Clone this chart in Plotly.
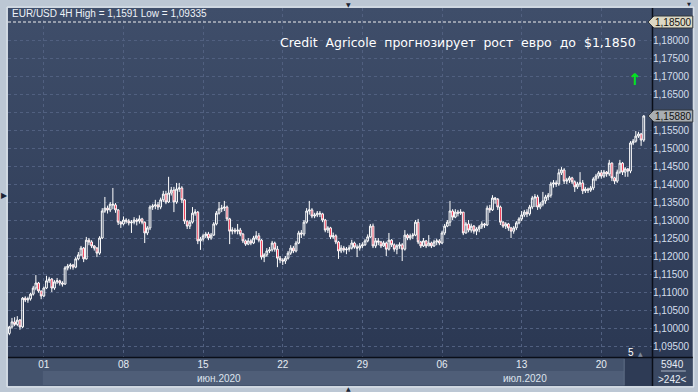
import base64
import plotly.graph_objects as go

# ---------------- data (EUR/USD 4H) ----------------
first_open = 1.0985
close_w0 = [1.1003,1.1017,1.1010,1.1022,1.1003,1.1083,1.1078,1.1081,1.1094,1.1111,1.1125,1.1103,1.1089]
high_w0 = [1.1006,1.1028,1.1030,1.1033,1.1025,1.1086,1.1088,1.1087,1.1098,1.1117,1.1147,1.1128,1.1103]
low_w0 = [1.0980,1.0998,1.1005,1.1005,1.0995,1.1000,1.1072,1.1070,1.1076,1.1090,1.1105,1.1098,1.1080]

close_w1 = [1.1111,1.1131,1.1136,1.1111,1.1128,1.1131,1.1125,1.1122,1.1167,1.1172,1.1175,1.1169,1.1192,1.1203,1.1222,
            1.1192,1.1244,1.1239,1.1228,1.1222,1.1208,1.1250,1.1325,1.1333,1.1328,1.1344,1.1342,1.1328,1.1294,1.1289]
high_w1 = [1.1115,1.1145,1.1142,1.1139,1.1133,1.1139,1.1134,1.1130,1.1172,1.1178,1.1180,1.1178,1.1197,1.1211,1.1228,
           1.1225,1.1253,1.1250,1.1244,1.1230,1.1225,1.1255,1.1333,1.1364,1.1340,1.1350,1.1389,1.1347,1.1330,1.1297]
low_w1 = [1.1086,1.1108,1.1125,1.1100,1.1106,1.1122,1.1118,1.1115,1.1120,1.1160,1.1163,1.1162,1.1166,1.1188,1.1200,
          1.1183,1.1190,1.1230,1.1222,1.1215,1.1197,1.1203,1.1247,1.1320,1.1318,1.1322,1.1330,1.1320,1.1286,1.1278]

close_w2 = [1.1300,1.1297,1.1292,1.1294,1.1300,1.1297,1.1303,1.1294,1.1264,1.1278,1.1336,1.1339,1.1342,1.1336,1.1356,
            1.1372,1.1350,1.1375,1.1383,1.1350,1.1386,1.1389,1.1356,1.1297,1.1283,1.1294,1.1319,1.1322,1.1242,1.1247]
high_w2 = [1.1310,1.1305,1.1303,1.1300,1.1308,1.1305,1.1313,1.1306,1.1296,1.1283,1.1341,1.1345,1.1356,1.1350,1.1362,
           1.1381,1.1381,1.1420,1.1392,1.1392,1.1403,1.1403,1.1394,1.1358,1.1299,1.1300,1.1336,1.1330,1.1325,1.1253]
low_w2 = [1.1285,1.1290,1.1285,1.1264,1.1288,1.1285,1.1290,1.1288,1.1236,1.1258,1.1272,1.1328,1.1330,1.1328,1.1330,
          1.1350,1.1344,1.1347,1.1368,1.1322,1.1345,1.1378,1.1347,1.1289,1.1275,1.1275,1.1290,1.1312,1.1233,1.1217]

close_w3 = [1.1256,1.1261,1.1250,1.1258,1.1289,1.1319,1.1331,1.1333,1.1336,1.1303,1.1269,1.1272,1.1269,1.1272,1.1261,
            1.1242,1.1233,1.1242,1.1236,1.1250,1.1256,1.1244,1.1197,1.1203,1.1214,1.1217,1.1236,1.1219,1.1194,1.1189]
high_w3 = [1.1262,1.1267,1.1267,1.1264,1.1294,1.1325,1.1350,1.1342,1.1353,1.1340,1.1306,1.1280,1.1278,1.1289,1.1278,
           1.1264,1.1246,1.1250,1.1247,1.1256,1.1269,1.1264,1.1247,1.1208,1.1222,1.1225,1.1242,1.1240,1.1228,1.1200]
low_w3 = [1.1240,1.1250,1.1244,1.1245,1.1256,1.1285,1.1315,1.1322,1.1325,1.1297,1.1233,1.1260,1.1262,1.1260,1.1255,
          1.1236,1.1228,1.1230,1.1230,1.1233,1.1245,1.1238,1.1190,1.1183,1.1198,1.1208,1.1212,1.1212,1.1169,1.1180]

close_w4 = [1.1186,1.1194,1.1208,1.1222,1.1214,1.1236,1.1264,1.1261,1.1294,1.1325,1.1328,1.1311,1.1314,1.1319,1.1317,
            1.1300,1.1272,1.1278,1.1253,1.1256,1.1239,1.1214,1.1222,1.1217,1.1219,1.1222,1.1236,1.1225,1.1222,1.1228]
high_w4 = [1.1194,1.1200,1.1214,1.1230,1.1228,1.1242,1.1270,1.1272,1.1300,1.1333,1.1353,1.1333,1.1320,1.1325,1.1325,
           1.1320,1.1303,1.1283,1.1281,1.1265,1.1260,1.1242,1.1230,1.1228,1.1225,1.1230,1.1245,1.1240,1.1232,1.1236]
low_w4 = [1.1175,1.1178,1.1190,1.1203,1.1208,1.1210,1.1233,1.1250,1.1255,1.1290,1.1315,1.1305,1.1305,1.1308,1.1308,
          1.1294,1.1266,1.1264,1.1247,1.1248,1.1233,1.1192,1.1208,1.1210,1.1205,1.1212,1.1218,1.1220,1.1197,1.1215]

close_w5 = [1.1231,1.1242,1.1253,1.1283,1.1228,1.1242,1.1239,1.1228,1.1236,1.1219,1.1244,1.1231,1.1219,1.1228,1.1231,
            1.1219,1.1258,1.1250,1.1256,1.1258,1.1294,1.1239,1.1228,1.1242,1.1228,1.1236,1.1228,1.1239,1.1242,1.1236]
high_w5 = [1.1238,1.1247,1.1260,1.1289,1.1290,1.1250,1.1250,1.1242,1.1242,1.1240,1.1264,1.1247,1.1235,1.1233,1.1238,
           1.1236,1.1272,1.1262,1.1262,1.1264,1.1300,1.1303,1.1242,1.1250,1.1244,1.1258,1.1240,1.1245,1.1248,1.1247]
low_w5 = [1.1222,1.1228,1.1238,1.1250,1.1222,1.1222,1.1230,1.1222,1.1225,1.1200,1.1215,1.1225,1.1212,1.1205,1.1220,
          1.1186,1.1215,1.1244,1.1244,1.1247,1.1255,1.1233,1.1222,1.1225,1.1222,1.1228,1.1222,1.1225,1.1230,1.1230]

close_w6 = [1.1264,1.1283,1.1294,1.1325,1.1308,1.1322,1.1319,1.1322,1.1264,1.1289,1.1272,1.1283,1.1269,1.1275,1.1281,
            1.1289,1.1286,1.1333,1.1328,1.1361,1.1358,1.1336,1.1294,1.1283,1.1289,1.1278,1.1269,1.1278,1.1292,1.1303]
high_w6 = [1.1270,1.1289,1.1300,1.1353,1.1330,1.1330,1.1328,1.1330,1.1322,1.1295,1.1300,1.1290,1.1286,1.1280,1.1286,
           1.1296,1.1292,1.1340,1.1342,1.1369,1.1364,1.1361,1.1340,1.1297,1.1294,1.1292,1.1281,1.1283,1.1297,1.1308]
low_w6 = [1.1233,1.1258,1.1280,1.1283,1.1300,1.1305,1.1310,1.1314,1.1258,1.1262,1.1266,1.1265,1.1262,1.1258,1.1266,
          1.1275,1.1278,1.1283,1.1320,1.1325,1.1345,1.1328,1.1286,1.1278,1.1275,1.1270,1.1250,1.1262,1.1272,1.1288]

close_w7 = [1.1314,1.1322,1.1317,1.1336,1.1361,1.1364,1.1336,1.1344,1.1353,1.1364,1.1369,1.1400,1.1403,1.1400,1.1431,
            1.1439,1.1408,1.1411,1.1417,1.1406,1.1392,1.1400,1.1403,1.1381,1.1386,1.1383,1.1389,1.1414,1.1422,1.1431]
high_w7 = [1.1325,1.1328,1.1330,1.1342,1.1367,1.1372,1.1370,1.1350,1.1378,1.1370,1.1375,1.1406,1.1411,1.1410,1.1442,
           1.1447,1.1444,1.1417,1.1422,1.1420,1.1410,1.1406,1.1433,1.1411,1.1392,1.1390,1.1395,1.1419,1.1428,1.1436]
low_w7 = [1.1297,1.1308,1.1308,1.1312,1.1330,1.1336,1.1328,1.1330,1.1338,1.1345,1.1355,1.1362,1.1390,1.1392,1.1395,
          1.1425,1.1400,1.1400,1.1403,1.1400,1.1378,1.1386,1.1392,1.1372,1.1375,1.1375,1.1378,1.1383,1.1408,1.1415]

close_w8 = [1.1422,1.1433,1.1428,1.1458,1.1417,1.1408,1.1433,1.1458,1.1433,1.1442,1.1436,1.1514,1.1519,1.1533,1.1539,1.1522,1.1589]
high_w8 = [1.1439,1.1439,1.1436,1.1467,1.1460,1.1420,1.1440,1.1467,1.1461,1.1447,1.1444,1.1519,1.1525,1.1547,1.1545,1.1542,1.1591]
low_w8 = [1.1415,1.1417,1.1420,1.1422,1.1408,1.1400,1.1403,1.1428,1.1425,1.1420,1.1420,1.1430,1.1508,1.1515,1.1528,1.1506,1.1517]

week_tick_pos = [13, 43, 73, 103, 133, 163, 193, 223]
week_tick_text = ["01", "08", "15", "22", "29", "06", "13", "20"]
price_ticks = [1.095, 1.100, 1.105, 1.110, 1.115, 1.120, 1.125, 1.130, 1.135, 1.140,
               1.145, 1.150, 1.155, 1.160, 1.165, 1.170, 1.175, 1.180]
target_level = 1.1850
last_price = 1.1588
header = "EUR/USD 4H High = 1,1591 Low = 1,09335"
title = "Credit  Agricole  прогнозирует  рост  евро  до  $1,1850"

# ---------------- assemble OHLC ----------------
closes = close_w0 + close_w1 + close_w2 + close_w3 + close_w4 + close_w5 + close_w6 + close_w7 + close_w8
highs = high_w0 + high_w1 + high_w2 + high_w3 + high_w4 + high_w5 + high_w6 + high_w7 + high_w8
lows = low_w0 + low_w1 + low_w2 + low_w3 + low_w4 + low_w5 + low_w6 + low_w7 + low_w8
opens = [first_open] + closes[:-1]
highs = [max(h, o, c) for h, o, c in zip(highs, opens, closes)]
lows = [min(l, o, c) for l, o, c in zip(lows, opens, closes)]
xs = list(range(len(closes)))

# ---------------- geometry helpers ----------------
W, H = 698, 392
L, R, T, B = 8, 655, 8, 357
PW, PH = R - L, B - T
Y_TOP = target_level + (22 - T) / 3600.0
Y_BOT = target_level - (B - 22) / 3600.0


def px(x):
    return (x - L) / PW


def py(y):
    return (B - y) / PH


def fmt(v, d=5):
    return f"{v:.{d}f}".replace(".", ",")


fig = go.Figure()
fig.add_trace(go.Candlestick(
    x=xs, open=opens, high=highs, low=lows, close=closes,
    increasing=dict(line=dict(color="#ffffff", width=1), fillcolor="rgba(0,0,0,0)"),
    decreasing=dict(line=dict(color="#ffffff", width=1), fillcolor="#ee1030"),
    whiskerwidth=0, hoverinfo="skip", showlegend=False,
))

# gradient background image
svg = ("<svg xmlns='http://www.w3.org/2000/svg' width='10' height='100' preserveAspectRatio='none'>"
       "<defs><linearGradient id='g' x1='0' y1='0' x2='0' y2='1'>"
       "<stop offset='0' stop-color='#3f4e6a'/><stop offset='1' stop-color='#2b3853'/>"
       "</linearGradient></defs><rect width='10' height='100' fill='url(#g)'/></svg>")
uri = "data:image/svg+xml;base64," + base64.b64encode(svg.encode()).decode()

shapes = []


def rect(x0, y0, x1, y1, color, layer="below", line=None):
    shapes.append(dict(type="rect", xref="paper", yref="paper",
                       x0=px(x0), x1=px(x1), y0=py(y1), y1=py(y0),
                       fillcolor=color, line=line or dict(width=0), layer=layer))


def seg(x0, y0, x1, y1, color, width=1, dash="solid", layer="above"):
    shapes.append(dict(type="line", xref="paper", yref="paper",
                       x0=px(x0), x1=px(x1), y0=py(y0), y1=py(y1),
                       line=dict(color=color, width=width, dash=dash), layer=layer))


# frame outline
rect(7, 7, 697, 387, "rgba(0,0,0,0)", line=dict(color="#e2e8ee", width=1))
# bottom axis band
rect(8, 357, 627, 386, "#44536d")
rect(43, 371, 627, 385, "#4f5e78")
rect(627, 357, 655, 386, "#2e3b55")
rect(655, 357, 696, 386, "#3a4862")
# separators
seg(8, 357.5, 696, 357.5, "#0a0e18", 1.5)
seg(655.5, 8, 655.5, 386, "#0a0e18", 1.5)
seg(627, 359, 627, 385, "#5d6b84", 1)
# target dashed line
shapes.append(dict(type="line", xref="paper", yref="y", x0=0, x1=1,
                   y0=target_level, y1=target_level,
                   line=dict(color="#f0f0f0", width=1, dash="3px,2px"), layer="above"))


# price tags
def tag(yc, color):
    p = (f"M {px(651)},{py(yc)} L {px(657)},{py(yc-6)} L {px(696)},{py(yc-6)} "
         f"L {px(696)},{py(yc+6)} L {px(657)},{py(yc+6)} Z")
    shapes.append(dict(type="path", xref="paper", yref="paper", path=p,
                       fillcolor=color, line=dict(color="#30363e", width=1), layer="above"))


tag(22, "#dcd8c4")
tag(116, "#a9aeb3")
# underline in corner
seg(664, 371, 689, 371, "#aab4c4", 1)


def note(text, x, y, size=10, color="#e6ecf4", family="Liberation Sans", anchor="center"):
    return dict(text=text, x=px(x), y=py(y), xref="paper", yref="paper", xanchor=anchor,
                yanchor="middle", showarrow=False, font=dict(family=family, size=size, color=color))


annotations = [
    note(header, 10, 14, 10, "#eef2f8", anchor="left"),
    note(title, 641, 42, 12.5, "#ffffff", "DejaVu Sans", anchor="right"),
    note("<b>↑</b>", 637, 79, 16, "#00e61c", "DejaVu Sans"),
    note(fmt(target_level), 677, 22, 10, "#111111"),
    note(fmt(last_price), 677, 116, 10, "#111111"),
    note("июн.2020", 220, 378, 10, "#dde4ee"),
    note("июл.2020", 527, 378, 10, "#dde4ee"),
    note("5940", 676, 364),
    note("&gt;242&lt;", 676, 379),
    note("5", 634, 352, 10, "#ffffff"),
    note("▲", 643, 353, 6, "#7c889c", "DejaVu Sans"),
    note("▶", 4, 195, 8, "#1c2434", "DejaVu Sans"),
    note("▼", 350, 4, 6, "#1c2434", "DejaVu Sans"),
    note("▲", 350, 388, 6, "#1c2434", "DejaVu Sans"),
    note("▼", 692, 4, 5, "#1c2434", "DejaVu Sans"),
]

price_text = [fmt(v) if abs(v - 1.16) > 1e-9 else "" for v in price_ticks]

grid_color = "#516080"

fig.update_layout(
    width=W, height=H,
    margin=dict(l=L, r=W - R, t=T, b=H - B, pad=0),
    paper_bgcolor="#bcc7d4",
    plot_bgcolor="rgba(0,0,0,0)",
    boxgap=0.05,
    images=[dict(source=uri, xref="paper", yref="paper", x=px(8), y=py(8),
                 sizex=px(696) - px(8), sizey=py(8) - py(357), sizing="stretch",
                 xanchor="left", yanchor="top", layer="below")],
    shapes=shapes,
    annotations=annotations,
    showlegend=False,
    xaxis=dict(range=[-0.5, 242.1], rangeslider=dict(visible=False), tickmode="array",
               tickvals=week_tick_pos, ticktext=week_tick_text, ticks="", showline=False,
               showgrid=True, gridcolor=grid_color, griddash="3px,3px", gridwidth=1, zeroline=False,
               tickfont=dict(family="Liberation Sans", size=10, color="#e6ecf4"), fixedrange=True),
    yaxis=dict(range=[Y_BOT, Y_TOP], side="right", tickmode="array", tickvals=price_ticks,
               ticktext=price_text, ticks="", showline=False, showgrid=True, gridcolor=grid_color,
               griddash="3px,3px", gridwidth=1, zeroline=False,
               tickfont=dict(family="Liberation Sans", size=10, color="#d4deec"), fixedrange=True),
)

fig.write_html("out.html")
